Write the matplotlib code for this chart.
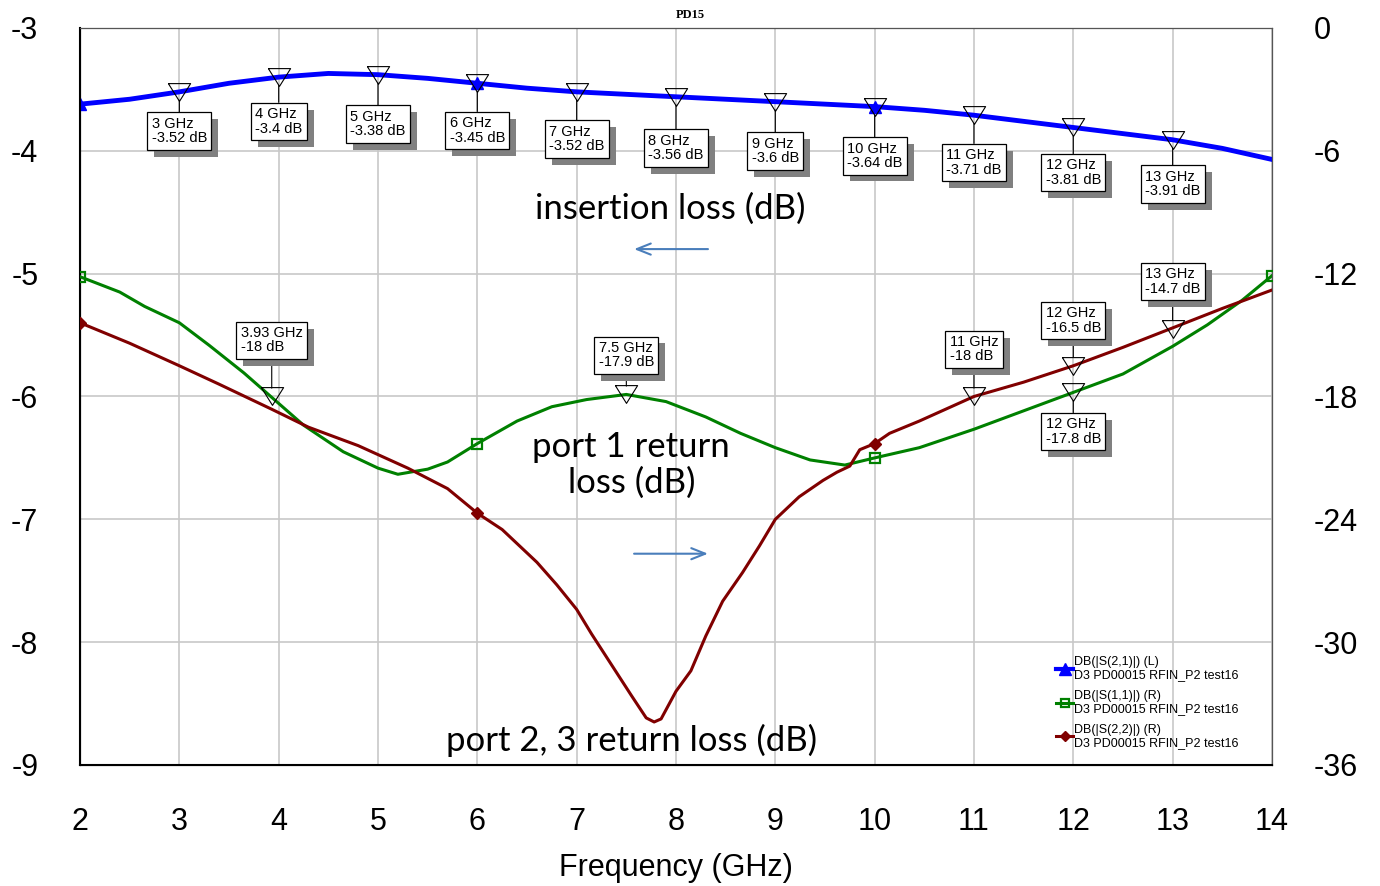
import numpy as np
import matplotlib
matplotlib.use("Agg")
import matplotlib.pyplot as plt
import matplotlib.patheffects as pe
from matplotlib.lines import Line2D

plt.rcParams["axes.unicode_minus"] = False

# insertion loss S21 (left axis, dB)
s21_freq = [2.0, 2.5, 3.0, 3.5, 4.0, 4.5, 5.0, 5.5, 6.0, 6.5, 7.0, 7.5, 8.0,
            8.5, 9.0, 9.5, 10.0, 10.5, 11.0, 11.5, 12.0, 12.5, 13.0, 13.5, 14.0]
s21_db = [-3.62, -3.58, -3.52, -3.45, -3.40, -3.37, -3.38, -3.41, -3.45, -3.49,
          -3.52, -3.54, -3.56, -3.58, -3.60, -3.62, -3.64, -3.67, -3.71, -3.76,
          -3.81, -3.86, -3.91, -3.98, -4.07]

# port 1 return loss S11 (right axis, dB)
s11_freq = [2.0, 2.4, 2.65, 3.0, 3.3, 3.65, 3.92, 4.25, 4.65, 5.0, 5.2, 5.5, 5.7,
            6.0, 6.4, 6.75, 7.1, 7.5, 7.9, 8.3, 8.65, 9.0, 9.35, 9.7, 10.0,
            10.45, 11.0, 11.5, 12.0, 12.5, 13.0, 13.35, 13.7, 14.0]
s11_db = [-12.15, -12.9, -13.6, -14.4, -15.5, -16.85, -18.0, -19.4, -20.7, -21.5,
          -21.8, -21.55, -21.2, -20.3, -19.2, -18.5, -18.15, -17.9, -18.25, -19.0,
          -19.8, -20.5, -21.1, -21.35, -21.0, -20.5, -19.6, -18.7, -17.8, -16.9,
          -15.55, -14.5, -13.3, -12.1]

# port 2 return loss S22 (right axis, dB)
s22_freq = [2.0, 2.5, 3.0, 3.4, 3.92, 4.3, 4.8, 5.3, 5.7, 6.0, 6.25, 6.6, 6.8, 7.0,
            7.15, 7.35, 7.55, 7.7, 7.78, 7.85, 8.0, 8.15, 8.3, 8.47, 8.67, 8.84,
            9.0, 9.24, 9.48, 9.62, 9.75, 9.85, 10.0, 10.15, 10.45, 11.0, 11.5,
            12.0, 12.5, 13.0, 13.5, 14.0]
s22_db = [-14.4, -15.4, -16.5, -17.4, -18.6, -19.5, -20.4, -21.5, -22.5, -23.7,
          -24.5, -26.1, -27.2, -28.4, -29.6, -31.1, -32.6, -33.7, -33.9, -33.75,
          -32.4, -31.4, -29.7, -28.0, -26.6, -25.3, -24.0, -22.9, -22.1, -21.7,
          -21.4, -20.6, -20.3, -19.8, -19.2, -18.0, -17.3, -16.5, -15.6, -14.65,
          -13.7, -12.8]

# marker readouts
il_mk_freq = [3, 4, 5, 6, 7, 8, 9, 10, 11, 12, 13]
il_mk_db = [-3.52, -3.4, -3.38, -3.45, -3.52, -3.56, -3.6, -3.64, -3.71, -3.81, -3.91]
il_mk_off = [25, 30, 35, 33, 33, 37, 35, 35, 33, 31, 30]  # px below point

rl_mk_freq = [3.93, 7.5, 11, 12, 13, 12]
rl_mk_db = [-18, -17.9, -18, -16.5, -14.7, -17.8]
rl_mk_off = [-42, -25, -33, -31, -33, 25]  # negative = box above

fig = plt.figure(figsize=(13.8, 8.86), dpi=100)
ax = fig.add_axes([0.058, 0.1366, 0.8637, 0.8318])
ax2 = ax.twinx()

blue = "#0000ff"
green = "#008000"
red = "#800000"

mk_idx = lambda f, pts: [i for i, v in enumerate(f) if v in pts]

ax.plot(s21_freq, s21_db, color=blue, lw=3.5, marker="^", ms=9,
        markevery=mk_idx(s21_freq, [2, 6, 10]), zorder=3)
ax2.plot(s11_freq, s11_db, color=green, lw=2.2, marker="s", ms=7, mfc="none", mew=1.6,
         markevery=mk_idx(s11_freq, [2, 6, 10, 14]), zorder=3)
ax2.plot(s22_freq, s22_db, color=red, lw=2.2, marker="D", ms=6,
         markevery=mk_idx(s22_freq, [2, 6, 10]), zorder=3)

ax.set_xlim(2, 14)
ax.set_ylim(-9, -3)
ax2.set_ylim(-36, 0)
ax.set_xticks(range(2, 15))
ax.set_yticks(range(-9, -2))
ax2.set_yticks(range(-36, 1, 6))
ax.grid(True, color="#c8c8c8", lw=1.2)
for a in (ax, ax2):
    a.tick_params(length=0, labelsize=22, pad=30)
    for lab in a.get_xticklabels() + a.get_yticklabels():
        lab.set_family("Liberation Sans")
for s in ("top", "right"):
    ax2.spines[s].set_color("#555555")
ax2.spines["left"].set_linewidth(1.5)
ax2.spines["bottom"].set_linewidth(1.5)

ax.set_xlabel("Frequency (GHz)", fontsize=22, family="Liberation Sans", labelpad=12)
fig.text(0.5, 0.983, "PD15", ha="center", va="center", fontsize=9,
         fontweight="bold", family="Liberation Serif")

tri = [(-1, 0.8), (1, 0.8), (0, -0.8), (-1, 0.8)]


def marker_box(axis, f, v, off):
    axis.plot([f], [v], marker=tri, ms=16, mfc="none", mec="black", mew=0.8,
              ls="none", zorder=5)
    va = "top" if off > 0 else "bottom"
    t = axis.annotate(f"{f:g} GHz\n{v:g} dB", xy=(f, v),
                      xytext=(0, -off * 0.72), textcoords="offset points",
                      ha="center", va=va, multialignment="left",
                      fontsize=10.5, family="Liberation Sans",
                      linespacing=1.05, zorder=6,
                      bbox=dict(boxstyle="square,pad=0.3", fc="white", ec="black", lw=0.9),
                      arrowprops=dict(arrowstyle="-", color="black", lw=0.8,
                                      shrinkA=0, shrinkB=6))
    t.get_bbox_patch().set_path_effects(
        [pe.withSimplePatchShadow(offset=(5, -5), shadow_rgbFace="#808080", alpha=1)])


for f, v, o in zip(il_mk_freq, il_mk_db, il_mk_off):
    marker_box(ax, f, v, o)
for f, v, o in zip(rl_mk_freq, rl_mk_db, rl_mk_off):
    marker_box(ax2, f, v, o)

txt_font = "Lato"
ax.text(7.94, -4.47, "insertion loss (dB)", ha="center", va="center",
        fontsize=25, family=txt_font)
ax.text(7.55, -6.56, "port 1 return\nloss (dB)", ha="center", va="center",
        fontsize=25, family=txt_font, linespacing=1.15)
ax.text(7.55, -8.8, "port 2, 3 return loss (dB)", ha="center", va="center",
        fontsize=25, family=txt_font)
arrow_col = "#4a7ebb"
ax.annotate("", xy=(7.55, -4.80), xytext=(8.35, -4.80),
            arrowprops=dict(arrowstyle="->,head_length=1.0,head_width=0.4",
                            color=arrow_col, lw=1.5))
ax.annotate("", xy=(8.35, -7.28), xytext=(7.55, -7.28),
            arrowprops=dict(arrowstyle="->,head_length=1.0,head_width=0.4",
                            color=arrow_col, lw=1.5))

handles = [
    Line2D([], [], color=blue, lw=3, marker="^", ms=8),
    Line2D([], [], color=green, lw=2.2, marker="s", ms=6, mfc="none", mew=1.6),
    Line2D([], [], color=red, lw=2.2, marker="D", ms=5),
]
labels = [
    "DB(|S(2,1)|) (L)\nD3 PD00015 RFIN_P2 test16",
    "DB(|S(1,1)|) (R)\nD3 PD00015 RFIN_P2 test16",
    "DB(|S(2,2)|) (R)\nD3 PD00015 RFIN_P2 test16",
]
leg = ax2.legend(handles, labels, loc="upper left", bbox_to_anchor=(0.815, 0.154),
                 frameon=False, handlelength=1.3, handletextpad=0.1,
                 labelspacing=0.75, borderaxespad=0,
                 prop={"family": "Liberation Sans", "size": 9})
for t in leg.get_texts():
    t.set_linespacing(1.05)

fig.savefig("out.png", dpi=100)
